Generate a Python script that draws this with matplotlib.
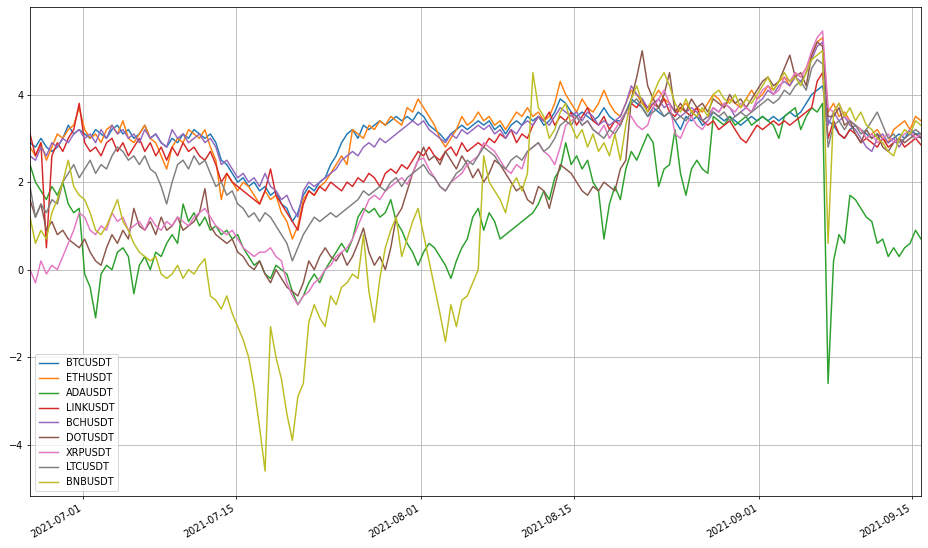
import matplotlib
matplotlib.use("Agg")
import matplotlib.pyplot as plt
import matplotlib.dates as mdates
import pandas as pd

# 12-hourly samples, 2021-06-26 to 2021-09-15
start = "2021-06-26 03:00"
end = "2021-09-15 20:00"
n_points = 164

symbols = ["BTCUSDT", "ETHUSDT", "ADAUSDT", "LINKUSDT", "BCHUSDT",
           "DOTUSDT", "XRPUSDT", "LTCUSDT", "BNBUSDT"]

btc = [2.9, 2.8, 3.0, 2.8, 2.7, 2.8, 3.0, 3.3, 3.1, 3.2,
       3.1, 3.0, 3.2, 3.1, 3.0, 3.2, 3.3, 3.1, 3.2, 3.0,
       3.1, 3.3, 3.0, 3.1, 2.9, 2.8, 3.0, 2.9, 3.1, 3.0,
       3.2, 3.1, 3.0, 3.1, 2.9, 2.5, 2.4, 2.2, 2.0, 2.1,
       1.9, 2.0, 1.8, 1.9, 1.7, 1.8, 1.5, 1.4, 1.1, 1.3,
       1.7, 1.9, 1.8, 2.0, 2.1, 2.4, 2.6, 2.9, 3.1, 3.2,
       3.0, 3.3, 3.2, 3.3, 3.4, 3.3, 3.4, 3.5, 3.4, 3.5,
       3.4, 3.6, 3.5, 3.3, 3.2, 3.1, 2.95, 3.1, 3.2, 3.3,
       3.2, 3.3, 3.4, 3.3, 3.4, 3.2, 3.3, 3.1, 3.3, 3.4,
       3.3, 3.5, 3.4, 3.5, 3.3, 3.4, 3.6, 3.9, 3.8, 3.6,
       3.5, 3.6, 3.5, 3.4, 3.5, 3.7, 3.5, 3.4, 3.4, 3.6,
       3.9, 3.8, 3.7, 3.5, 3.7, 3.6, 3.5, 3.6, 3.4, 3.2,
       3.5, 3.4, 3.5, 3.3, 3.4, 3.6, 3.5, 3.4, 3.5, 3.4,
       3.3, 3.4, 3.5, 3.4, 3.5, 3.4, 3.5, 3.4, 3.5, 3.6,
       3.5, 3.6, 3.8, 4.0, 4.1, 4.2, 3.4, 3.3, 3.1, 3.0,
       3.2, 3.3, 3.2, 3.1, 3.0, 3.1, 3.0, 2.9, 3.0, 3.1,
       3.0, 3.2, 3.1, 3.1]

eth = [2.8, 2.6, 2.9, 2.5, 2.8, 3.1, 3.0, 3.2, 3.3, 3.7,
       3.2, 3.0, 3.1, 2.9, 3.2, 3.3, 3.1, 3.4, 3.0, 2.9,
       3.1, 3.3, 3.0, 2.9, 2.6, 2.3, 2.8, 3.0, 2.9, 3.2,
       3.1, 3.0, 3.2, 2.8, 2.5, 1.6, 2.2, 2.0, 1.8, 2.0,
       1.9, 1.7, 1.5, 1.8, 1.6, 1.7, 1.3, 1.1, 0.7, 1.0,
       1.6, 1.8, 1.7, 1.9, 2.0, 2.2, 2.4, 2.6, 2.4, 3.2,
       3.1, 3.0, 3.3, 3.2, 3.4, 3.3, 3.5, 3.4, 3.3, 3.7,
       3.6, 3.9, 3.7, 3.5, 3.3, 3.0, 2.8, 3.0, 3.2, 3.5,
       3.3, 3.4, 3.6, 3.4, 3.5, 3.3, 3.4, 3.2, 3.4, 3.6,
       3.5, 3.7, 3.5, 3.6, 3.4, 3.5, 3.8, 4.3, 4.0, 3.8,
       3.6, 3.9, 3.7, 3.6, 3.8, 4.1, 3.8, 3.6, 3.5, 3.8,
       4.1, 4.0, 3.8, 3.7, 3.9, 4.1, 3.9, 3.8, 3.6, 3.7,
       3.8, 3.6, 3.7, 3.6, 3.8, 4.0, 3.9, 3.7, 3.9, 3.8,
       3.7, 3.9, 4.1, 3.9, 4.0, 4.2, 4.1, 4.3, 4.4, 4.2,
       4.5, 4.4, 4.6, 4.9, 5.2, 5.3, 3.6, 3.8, 3.5, 3.6,
       3.4, 3.3, 3.2, 3.0, 3.1, 3.2, 3.0, 2.9, 3.2, 3.3,
       3.4, 3.2, 3.5, 3.4]

ada = [2.4, 2.0, 1.8, 1.6, 1.9, 1.7, 2.0, 1.5, 1.3, 1.4,
       -0.1, -0.4, -1.1, -0.1, 0.1, 0.0, 0.4, 0.5, 0.3, -0.55,
       0.1, 0.3, 0.0, 0.4, 0.3, 0.6, 0.8, 0.6, 1.5, 1.1,
       1.3, 1.0, 1.2, 0.9, 1.0, 0.8, 0.9, 0.7, 0.8, 0.5,
       0.3, 0.1, 0.2, -0.1, -0.2, 0.1, 0.0, -0.1, -0.5, -0.8,
       -0.6, -0.3, -0.1, -0.3, 0.0, 0.2, 0.4, 0.6, 0.4, 0.7,
       1.2, 1.4, 1.3, 1.4, 1.2, 1.3, 1.6, 1.1, 0.9, 0.6,
       0.4, 0.1, 0.4, 0.6, 0.5, 0.3, 0.1, -0.2, 0.2, 0.5,
       0.7, 1.2, 1.4, 0.9, 1.3, 1.1, 0.7, 0.8, 0.9, 1.0,
       1.1, 1.2, 1.3, 1.5, 1.8, 1.6, 2.1, 2.3, 2.9, 2.4,
       2.6, 2.3, 2.5, 2.0, 1.8, 0.7, 1.5, 1.9, 1.6, 2.3,
       2.7, 2.5, 2.8, 3.1, 2.9, 1.9, 2.3, 2.4, 3.2, 2.2,
       1.7, 2.3, 2.5, 2.3, 2.2, 3.5, 3.4, 3.3, 3.5, 3.3,
       3.4, 3.5, 3.3, 3.4, 3.5, 3.4, 3.3, 3.0, 3.5, 3.6,
       3.7, 3.2, 3.5, 3.7, 3.6, 3.8, -2.6, 0.2, 0.8, 0.6,
       1.7, 1.6, 1.4, 1.2, 1.1, 0.6, 0.7, 0.3, 0.5, 0.3,
       0.5, 0.6, 0.9, 0.7]

link = [3.1, 2.6, 2.9, 0.5, 2.6, 2.9, 2.7, 3.0, 3.2, 3.8,
        2.9, 2.7, 2.8, 2.6, 2.9, 3.0, 2.7, 2.9, 2.6, 2.8,
        3.0, 2.7, 2.9, 2.6, 2.8, 2.5, 2.8, 2.6, 2.9, 2.7,
        2.8, 2.6, 2.5, 2.7, 2.4, 2.0, 2.2, 2.0, 1.9, 1.8,
        1.7, 1.6, 1.5, 1.8, 2.3, 1.7, 1.5, 1.3, 1.1, 0.9,
        1.5, 1.8, 1.7, 1.9, 1.8, 2.0, 1.9, 1.8, 2.0, 1.9,
        2.1, 2.0, 2.2, 2.1, 1.9, 2.2, 2.3, 2.2, 2.4, 2.3,
        2.5, 2.7, 2.6, 2.8, 2.6, 2.5, 2.7, 2.8, 2.6, 2.9,
        2.7, 2.8, 2.9, 2.8, 3.0, 2.9, 3.1, 3.0, 3.2, 2.9,
        3.1, 3.0, 3.3, 3.5, 3.4, 3.6, 3.3, 3.5, 3.4, 3.6,
        3.3, 3.5, 3.7, 3.4, 3.3, 3.5, 3.2, 3.4, 3.3, 3.6,
        3.8, 3.7, 3.9, 3.6, 3.8, 3.7, 3.9, 3.6, 3.5, 3.7,
        3.6, 3.5, 3.7, 3.4, 3.3, 3.4, 3.2, 3.3, 3.4, 3.2,
        3.0, 2.9, 3.1, 3.3, 3.2, 3.3, 3.4, 3.3, 3.4, 3.3,
        3.4, 3.5, 3.6, 3.7, 4.3, 4.5, 3.0, 3.4, 3.1, 3.0,
        3.2, 3.1, 2.9, 3.0, 2.9, 2.8, 3.0, 2.8, 2.9, 3.0,
        2.8, 2.9, 3.0, 2.85]

bch = [2.6, 2.5, 2.8, 2.6, 2.9, 2.8, 3.0, 2.9, 3.1, 3.2,
       3.0, 3.1, 2.9, 3.2, 3.0, 3.3, 3.1, 3.2, 3.0, 3.1,
       2.9, 3.2, 3.0, 3.1, 2.9, 2.8, 3.2, 3.0, 3.1, 2.9,
       3.0, 3.1, 2.9, 3.0, 2.8, 2.4, 2.5, 2.3, 2.1, 2.2,
       2.0, 2.1, 1.9, 2.2, 1.9, 1.8, 1.6, 1.7, 1.4, 1.2,
       1.8, 2.0, 1.9, 2.0, 2.1, 2.2, 2.3, 2.5, 2.6, 2.7,
       2.6, 2.8, 2.9, 2.8, 3.0, 2.9, 3.0, 3.1, 3.2, 3.3,
       3.4, 3.3, 3.4, 3.2, 3.1, 3.0, 2.9, 3.1, 3.0, 3.2,
       3.1, 3.2, 3.3, 3.2, 3.3, 3.1, 3.2, 3.0, 3.2, 3.1,
       3.3, 3.4, 3.3, 3.5, 3.4, 3.3, 3.5, 3.7, 3.6, 3.5,
       3.6, 3.4, 3.6, 3.5, 3.3, 3.4, 3.3, 3.4, 3.5, 3.8,
       4.2, 4.0, 3.9, 3.7, 3.8, 3.9, 3.7, 3.8, 3.6, 3.5,
       3.6, 3.7, 3.6, 3.4, 3.5, 3.7, 3.6, 3.8, 3.7, 3.5,
       3.6, 3.7, 3.6, 3.8, 3.9, 4.1, 4.0, 4.2, 4.3, 4.2,
       4.4, 4.3, 4.5, 4.8, 5.1, 5.2, 3.3, 3.6, 3.4, 3.5,
       3.3, 3.2, 3.0, 2.8, 2.7, 3.0, 3.1, 2.9, 3.0, 2.8,
       3.0, 3.1, 3.0, 3.05]

dot = [1.6, 1.2, 1.5, 0.9, 1.1, 0.8, 0.9, 0.7, 0.6, 0.5,
       0.7, 0.4, 0.2, 0.1, 0.5, 0.8, 0.6, 0.9, 0.7, 1.4,
       1.0, 0.9, 1.1, 0.8, 1.2, 0.9, 1.0, 1.2, 0.9, 1.0,
       1.1, 1.3, 1.85, 1.0, 0.8, 0.7, 0.6, 0.7, 0.4, 0.3,
       0.1, 0.0, 0.2, -0.1, -0.3, 0.0, -0.2, -0.4, -0.5, -0.6,
       -0.3, 0.2, 0.0, 0.3, 0.5, 0.3, 0.2, 0.4, 0.1, 0.3,
       0.6, 0.95, 0.4, 0.1, 0.3, 0.0, 0.5, 1.2, 1.4, 1.8,
       2.2, 2.5, 2.8, 2.5, 2.6, 2.4, 2.7, 2.5, 2.3, 2.6,
       2.4, 2.1, 2.3, 2.0, 2.2, 2.5, 2.4, 2.2, 2.0, 1.8,
       1.9, 1.6, 1.5, 1.9, 1.8, 1.4, 1.9, 2.4, 2.3, 2.2,
       2.0, 1.8, 1.7, 1.9, 1.8, 2.0, 1.9, 1.8, 2.3, 2.5,
       3.9, 4.4, 5.0, 4.2, 3.9, 3.7, 4.0, 4.5, 3.6, 3.8,
       3.6, 3.9, 3.7, 3.8, 3.6, 3.9, 3.8, 3.7, 4.0, 3.8,
       3.9, 3.7, 3.9, 4.1, 4.3, 4.4, 4.2, 4.3, 4.6, 4.9,
       4.4, 4.5, 4.2, 4.9, 5.2, 5.1, 3.5, 3.5, 3.7, 3.3,
       3.4, 3.1, 2.9, 3.2, 3.0, 3.1, 2.8, 2.7, 2.9, 3.0,
       2.9, 3.0, 3.1, 3.0]

xrp = [0.0, -0.3, 0.2, -0.1, 0.1, 0.0, 0.3, 0.6, 0.9, 1.3,
       1.2, 0.9, 0.8, 1.0, 0.9, 1.3, 1.1, 1.2, 0.9, 1.0,
       1.1, 0.9, 1.2, 1.0, 0.9, 1.1, 1.0, 1.2, 1.1, 1.0,
       1.2, 1.3, 1.4, 1.2, 1.0, 0.9, 0.8, 0.9, 0.7, 0.5,
       0.4, 0.3, 0.4, 0.4, 0.5, 0.3, 0.2, -0.3, -0.6, -0.8,
       -0.6, -0.5, -0.3, -0.2, 0.0, 0.1, 0.3, 0.4, 0.5, 0.7,
       1.0, 1.3, 1.6, 1.7, 1.6, 1.8, 1.9, 2.0, 2.1, 1.95,
       2.2, 2.5, 2.55, 2.3, 2.1, 1.9, 1.8, 2.0, 2.1, 2.2,
       2.4, 2.5, 2.6, 2.9, 2.8, 2.7, 2.5, 2.3, 2.2, 2.4,
       2.3, 2.7, 2.8, 2.9, 2.7, 2.6, 2.4, 2.8, 3.3, 3.4,
       3.5, 3.3, 3.4, 3.2, 3.1, 3.3, 3.0, 3.2, 3.4, 3.6,
       3.5, 3.3, 3.2, 3.3, 3.7, 3.9, 4.1, 3.8, 3.1, 3.0,
       3.3, 3.5, 3.3, 3.2, 3.4, 3.7, 3.6, 3.8, 3.7, 3.6,
       3.8, 3.7, 3.6, 3.9, 4.1, 4.2, 4.0, 4.1, 4.4, 4.3,
       4.5, 4.4, 4.6, 5.0, 5.3, 5.45, 3.7, 3.6, 3.8, 3.5,
       3.4, 3.3, 3.2, 3.0, 3.1, 2.9, 3.0, 3.1, 2.9, 3.0,
       3.1, 3.2, 3.0, 3.1]

ltc = [1.9, 1.2, 1.5, 1.3, 1.6, 1.5, 2.0, 2.2, 2.4, 2.1,
       2.3, 2.5, 2.2, 2.4, 2.3, 2.6, 2.8, 2.7, 2.5, 2.6,
       2.4, 2.6, 2.3, 2.2, 1.9, 1.5, 2.0, 2.4, 2.5, 2.3,
       2.6, 2.4, 2.5, 2.2, 1.9, 2.0, 1.7, 1.8, 1.5, 1.4,
       1.2, 1.3, 1.1, 1.3, 1.2, 1.0, 0.8, 0.6, 0.2, 0.5,
       0.8, 1.0, 1.2, 1.1, 1.2, 1.3, 1.2, 1.3, 1.4, 1.5,
       1.6, 1.8, 1.7, 1.8, 1.9, 1.8, 2.0, 2.1, 1.9, 2.1,
       2.2, 2.3, 2.4, 2.2, 2.1, 1.9, 1.8, 2.0, 2.2, 2.3,
       2.5, 2.4, 2.6, 2.8, 2.7, 2.6, 2.4, 2.3, 2.5, 2.6,
       2.5, 2.7, 2.8, 2.9, 2.7, 2.8, 3.0, 3.3, 3.4, 3.3,
       3.5, 3.3, 3.4, 3.2, 3.1, 3.0, 3.2, 3.1, 3.3, 3.6,
       3.8, 3.9, 3.7, 3.5, 3.6, 3.7, 3.5, 3.6, 3.4, 3.5,
       3.4, 3.6, 3.5, 3.4, 3.5, 3.6, 3.5, 3.6, 3.4, 3.5,
       3.6, 3.5, 3.6, 3.7, 3.8, 3.9, 3.8, 3.9, 4.1, 4.0,
       4.2, 4.3, 4.1, 4.6, 4.8, 4.7, 2.8, 3.3, 3.4, 3.2,
       3.4, 3.3, 3.1, 3.2, 3.4, 3.6, 3.3, 3.0, 3.1, 2.9,
       3.0, 3.1, 3.2, 3.1]

bnb = [1.2, 0.6, 0.9, 0.7, 1.3, 1.6, 2.0, 2.5, 1.9, 1.7,
       1.6, 1.3, 0.9, 0.8, 1.0, 1.3, 1.6, 1.1, 0.9, 0.6,
       0.4, 0.3, 0.2, 0.3, -0.1, -0.2, -0.1, 0.1, -0.2, 0.0,
       -0.1, 0.1, 0.25, -0.6, -0.7, -0.9, -0.6, -1.0, -1.3, -1.6,
       -2.0, -2.7, -3.6, -4.6, -1.3, -2.0, -2.5, -3.3, -3.9, -2.9,
       -2.6, -1.2, -0.8, -1.1, -1.3, -0.6, -0.8, -0.4, -0.3, -0.1,
       -0.2, 0.8, -0.5, -1.2, -0.2, 0.5, 0.9, 1.2, 0.3, 0.7,
       1.1, 1.4, 0.8, 0.2, -0.4, -1.0, -1.65, -0.8, -1.3, -0.7,
       -0.6, -0.3, 0.0, 2.6, 2.0, 1.8, 1.6, 1.3, 1.9, 2.1,
       1.8, 2.2, 4.5, 3.7, 3.5, 3.0, 3.2, 3.6, 3.8, 3.3,
       3.0, 3.2, 2.8, 3.1, 2.7, 2.9, 2.6, 3.1, 2.5, 3.3,
       3.9, 4.2, 3.8, 3.6, 4.0, 4.3, 4.5, 4.2, 3.8, 3.6,
       3.9, 3.6, 3.5, 3.7, 3.5, 4.0, 4.1, 3.9, 3.8, 4.0,
       3.7, 3.9, 3.8, 4.0, 4.2, 4.4, 4.1, 4.3, 4.5, 4.3,
       4.4, 4.2, 4.5, 4.8, 4.9, 5.0, 0.6, 3.6, 3.8, 3.5,
       3.7, 3.4, 3.6, 3.3, 3.2, 3.0, 2.9, 2.7, 2.6, 3.0,
       3.2, 3.1, 3.4, 3.3]

series = [btc, eth, ada, link, bch, dot, xrp, ltc, bnb]
for name, s in zip(symbols, series):
    assert len(s) == n_points, (name, len(s))

index = pd.date_range(start, end, periods=n_points)
df = pd.DataFrame({name: s for name, s in zip(symbols, series)}, index=index)

fig = plt.figure(figsize=(928 / 70, 548 / 70), dpi=70)
ax = fig.add_axes([30 / 928, 1 - 496 / 548, 891 / 928, 489 / 548])

colors = ["#1f77b4", "#ff7f0e", "#2ca02c", "#d62728", "#9467bd",
          "#8c564b", "#e377c2", "#7f7f7f", "#bcbd22"]
for name, c in zip(symbols, colors):
    ax.plot(df.index, df[name], color=c, lw=1.5, label=name)

ax.set_xlim(df.index[0], df.index[-1])
ax.set_ylim(-5.17, 6.0)
ax.set_yticks([-4, -2, 0, 2, 4])
ax.xaxis.set_major_locator(mdates.DayLocator(bymonthday=[1, 15]))
ax.xaxis.set_major_formatter(mdates.DateFormatter("%Y-%m-%d"))
for lbl in ax.get_xticklabels():
    lbl.set_rotation(30)
    lbl.set_ha("right")
ax.grid(True)
ax.legend(loc="lower left")

fig.savefig("out.png", dpi=70)
